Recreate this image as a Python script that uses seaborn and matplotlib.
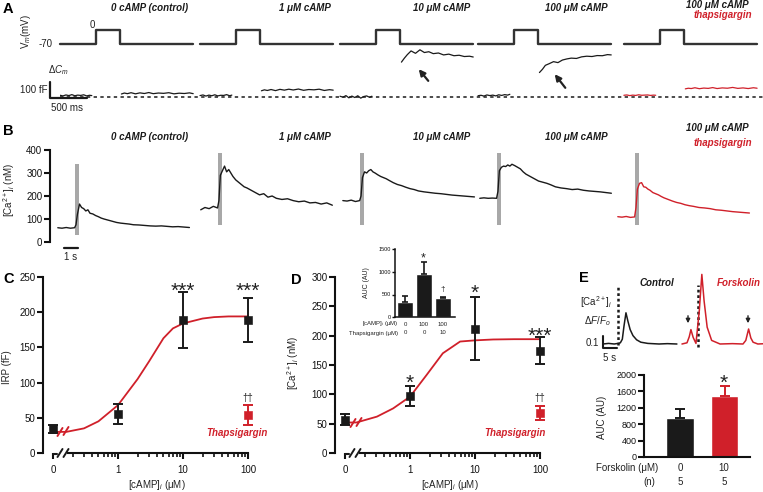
import numpy as np
import matplotlib
matplotlib.use("Agg")
import matplotlib.pyplot as plt
from matplotlib.ticker import FixedLocator, NullLocator
import seaborn as sns

sns.set_theme(style="ticks")
plt.rcParams['font.family'] = ['Liberation Sans', 'DejaVu Sans']
plt.rcParams.update({
    'mathtext.fontset': 'custom',
    'mathtext.rm': 'Liberation Sans',
    'mathtext.it': 'Liberation Sans:italic',
    'mathtext.bf': 'Liberation Sans:bold',
    'axes.linewidth': 1.5,
    'axes.edgecolor': '#111111',
    'xtick.color': '#111111', 'ytick.color': '#111111',
    'xtick.major.width': 1.5, 'ytick.major.width': 1.5,
    'xtick.major.size': 4, 'ytick.major.size': 4,
    'xtick.labelsize': 7, 'ytick.labelsize': 7,
    'xtick.major.pad': 2, 'ytick.major.pad': 1.5,
    'text.color': '#222222',
})

RED = '#d0202a'
INK = '#1a1a1a'
GREY = '#a8a8a8'

# ==========================================
# DATA
# ==========================================
conditions = ['0 cAMP (control)', '1 μM cAMP', '10 μM cAMP', '100 μM cAMP', '100 μM cAMP']

# A: voltage step (ms, mV) and capacitance traces (fF)
vm_t = [0, 490, 490, 810, 810, 1800]
vm_mv = [-70, -70, 0, 0, -70, -70]
cm_pre_t = [0, 40, 80, 120, 160, 200, 240, 280, 320, 360, 400, 430]
cm_pre = [
    [8, 4, 10, 6, 12, 5, 9, 7, 11, 4, 8, 6],
    [6, 10, 3, 9, 5, 11, 4, 8, 7, 12, 5, 9],
    [2, -4, 6, -8, 3, -6, 5, -10, 0, 4, -5, 2],
    [5, 8, 3, 10, 6, 9, 4, 11, 7, 12, 9, 14],
    [8, 10, 6, 9, 7, 11, 8, 9, 10, 7, 9, 8],
]
cm_post_t = [830, 870, 910, 960, 1020, 1080, 1140, 1200, 1260, 1330, 1400, 1470, 1540, 1610, 1680, 1750, 1800]
cm_post = [
    [16, 22, 18, 24, 17, 23, 19, 25, 18, 22, 20, 24, 17, 21, 19, 23, 18],
    [36, 42, 38, 44, 37, 45, 40, 46, 41, 47, 39, 44, 42, 46, 38, 43, 40],
    [215, 240, 262, 285, 270, 292, 275, 280, 268, 272, 260, 265, 255, 258, 250, 252, 247],
    [150, 170, 195, 205, 218, 212, 228, 235, 240, 238, 248, 252, 250, 256, 255, 262, 260],
    [48, 52, 50, 55, 49, 53, 51, 56, 50, 54, 52, 57, 51, 54, 50, 55, 52],
]

# B: [Ca2+]i traces (s relative to stimulus, nM)
ca_t = [-1.3, -1.0, -0.7, -0.4, -0.1, 0.0, 0.1, 0.25, 0.4, 0.55, 0.7, 0.85, 1.0, 1.2, 1.4, 1.6, 1.8,
        2.0, 2.3, 2.6, 2.9, 3.2, 3.5, 3.8, 4.1, 4.5, 4.9, 5.3, 5.7, 6.1, 6.5, 6.9, 7.3, 7.7, 8.1]
ca_nm = [
    [62, 60, 63, 60, 62, 75, 120, 165, 150, 145, 135, 140, 125, 122, 115, 110, 104, 100, 95, 90, 85, 82,
     80, 78, 75, 74, 72, 70, 69, 70, 68, 66, 67, 65, 63],
    [140, 150, 145, 155, 148, 180, 290, 310, 330, 305, 315, 300, 285, 270, 260, 250, 240, 235, 225, 215,
     205, 210, 195, 200, 190, 185, 188, 180, 175, 178, 170, 172, 165, 170, 160],
    [180, 178, 182, 176, 180, 200, 280, 305, 300, 310, 315, 305, 300, 292, 285, 280, 275, 268, 258, 250,
     245, 238, 232, 228, 222, 218, 215, 212, 210, 207, 204, 202, 200, 198, 196],
    [190, 192, 190, 191, 190, 220, 310, 325, 330, 328, 335, 330, 338, 332, 325, 318, 305, 295, 285, 275,
     265, 260, 255, 248, 240, 235, 232, 228, 230, 225, 222, 220, 218, 215, 212],
    [110, 108, 111, 107, 109, 150, 230, 255, 258, 240, 238, 230, 225, 215, 210, 205, 198, 192, 185, 178,
     172, 168, 162, 158, 155, 150, 148, 145, 140, 138, 135, 132, 130, 128, 126],
]
stim_lo = [30, 74, 74, 74, 74]
stim_hi = [339, 387, 387, 387, 387]

# C: IRP vs [cAMP]
camp_um = [0, 1, 10, 100]
camp_labels = ['0', '1', '10', '100']
irp_ff = [34, 55, 189, 189]
irp_sem = [6, 14, 40, 31]
irp_thaps, irp_thaps_sem = 54, 14
irp_fit_um = [0.1, 0.16, 0.3, 0.5, 1, 2, 3, 5, 7, 10, 20, 30, 50, 100]
irp_fit_ff = [30, 30, 35, 45, 68, 105, 130, 163, 177, 184, 191, 193, 194, 194]

# D: [Ca2+]i vs [cAMP]
ca_mean = [57, 97, 212, 174]
ca_sem = [9, 17, 54, 23]
ca_thaps, ca_thaps_sem = 68, 12
ca_fit_um = [0.1, 0.15, 0.31, 0.55, 1, 1.8, 3.2, 5.9, 10, 19, 40, 100]
ca_fit_nm = [52, 52, 62, 76, 96, 133, 170, 190, 192, 193.5, 194, 194]

# D inset: AUC
inset_cond = ['ctrl', 'camp', 'camp+thaps']
inset_auc = [333, 950, 420]
inset_sem = [135, 280, 30]
inset_camp = ['0', '100', '100']
inset_thaps = ['0', '0', '10']

# E: forskolin traces (s, dF/F0) and AUC
e_ctrl_t = [0, 2, 4, 5.4, 6.2, 6.9, 7.5, 8.2, 8.9, 9.7, 10.7, 12, 13.5, 16, 20, 23, 26.4]
e_ctrl_df = [0, 0.005, 0, 0.005, 0.01, 0.04, 0.15, 0.26, 0.19, 0.12, 0.07, 0.035, 0.015, 0.005, 0, 0.003, 0]
e_fsk_t = [0, 1.8, 2.6, 3.2, 4.0, 5.0, 6.2, 7.1, 7.9, 9.0, 10.6, 13.6, 18, 21.8, 22.8, 23.8, 24.6, 25.4, 27.1, 28.9]
e_fsk_df = [0, 0.01, 0.06, 0.12, 0.055, 0.005, 0.28, 0.58, 0.36, 0.14, 0.03, 0, 0.003, 0, 0.03, 0.125, 0.05,
            0.015, 0, 0.002]
e_stim = [5.4, 5.7]
forsk_um = ['0', '10']
forsk_n = ['5', '5']
forsk_auc = [960, 1500]
forsk_sem = [200, 240]

# ==========================================
# LAYOUT (pixel boxes on a 763 x 492 canvas)
# ==========================================
W, H = 763, 492
fig = plt.figure(figsize=(W / 100, H / 100), dpi=100)


def px_axes(x0, x1, y0, y1):
    return fig.add_axes([x0 / W, 1 - y1 / H, (x1 - x0) / W, (y1 - y0) / H])


def line(ax, x, y, **kw):
    sns.lineplot(x=list(x), y=list(y), ax=ax, estimator=None, sort=False, legend=False, **kw)


# ---------- A ----------
a_off = [0, 1892, 3784, 5649, 7620]
ax_vm = px_axes(60, 763, 30, 43.5)
ax_vm.set_xlim(0, 9500)
ax_vm.set_ylim(-70, 0)
ax_vm.axis('off')
ax_cm = px_axes(60, 763, 45, 110)
ax_cm.set_xlim(0, 9500)
ax_cm.set_ylim(-84, 322)
ax_cm.axis('off')
ax_cm.axhline(0, color=INK, lw=1.1, ls=(0, (2.2, 2.2)))
for i in range(5):
    col = RED if i == 4 else INK
    line(ax_vm, np.add(vm_t, a_off[i]), vm_mv, color='#333333', lw=1.7, clip_on=False)
    line(ax_cm, np.add(cm_pre_t, a_off[i]), cm_pre[i], color=col, lw=0.9)
    line(ax_cm, np.add(cm_post_t, a_off[i]), cm_post[i], color=col, lw=0.9)
ax_cm.plot([-135, -135, 365], [90, -10, -10], color=INK, lw=1.6, clip_on=False)

# ---------- B ----------
b_off = [0, 10.21, 20.36, 30.14, 40.0]
ax_b = px_axes(50, 763, 150, 242)
ax_b.set_xlim((50 - 76) / 14, (763 - 76) / 14)
ax_b.set_ylim(0, 400)
for i in range(5):
    col = RED if i == 4 else INK
    ax_b.fill_between([b_off[i] - 0.1, b_off[i] + 0.2], stim_lo[i], stim_hi[i], color=GREY, lw=0)
    line(ax_b, np.add(ca_t, b_off[i]), ca_nm[i], color=col, lw=1.0)
ax_b.plot([-0.857, 0.143], [-26, -26], color=INK, lw=1.6, clip_on=False)
sns.despine(ax=ax_b, bottom=True)
ax_b.spines['left'].set_bounds(0, 400)
ax_b.set_xticks([])
ax_b.set_yticks([0, 100, 200, 300, 400])


# ---------- C / D shared dose axis ----------
def dose_pos(c):
    # the "0" dose sits one decade below 1 uM, after the axis break
    return c if c > 0 else 0.1


def setup_dose_axis(ax, one_px, left_px, right_px, ymax, ystep):
    ax.set_xlim(10 ** ((left_px - one_px) / 65), 10 ** ((right_px - one_px) / 65))
    ax.set_ylim(0, ymax)
    sns.despine(ax=ax)
    ax.set_yticks(np.arange(0, ymax + 1, ystep))
    ax.spines['bottom'].set_bounds(10 ** (-50 / 65), 100)
    ax.spines['left'].set_bounds(0, ymax)


def log_ticks(ax):
    # labelled decades plus unlabelled 2..9 sub-ticks, all on one fixed locator
    ticks = [(dose_pos(c), lab) for c, lab in zip(camp_um, camp_labels)]
    ticks += [(k * 10.0 ** e, '') for e in (-1, 0, 1) for k in range(2, 10)]
    ticks.sort()
    ax.xaxis.set_major_locator(FixedLocator([t for t, _ in ticks]))
    ax.xaxis.set_minor_locator(NullLocator())
    ax.set_xticklabels([lab for _, lab in ticks])
    ax.tick_params(axis='x', which='major', length=4.5, width=1.5, pad=4)
    for tk, (_, lab) in zip(ax.xaxis.get_major_ticks(), ticks):
        if lab == '':
            tk.tick1line.set_markersize(3)
            tk.tick1line.set_markeredgewidth(1.2)


def dose_points(ax, means, sems, thaps, thaps_sem):
    pos = [dose_pos(c) for c in camp_um]
    ax.errorbar(pos, means, yerr=sems, fmt='none', ecolor=INK, elinewidth=1.4, capsize=3.5,
                capthick=1.4, clip_on=False, zorder=3)
    sns.scatterplot(x=pos, y=means, marker='s', s=30, color=INK, edgecolor=INK, ax=ax, zorder=4,
                    clip_on=False)
    ax.errorbar([100], [thaps], yerr=[thaps_sem], fmt='none', ecolor=RED, elinewidth=1.4, capsize=3.5,
                capthick=1.4, clip_on=False, zorder=3)
    sns.scatterplot(x=[100], y=[thaps], marker='s', s=30, color=RED, edgecolor=RED, ax=ax, zorder=4,
                    clip_on=False)


ax_c = px_axes(43, 251, 277, 453)
ax_c.set_xscale('log')
line(ax_c, irp_fit_um, irp_fit_ff, color=RED, lw=1.3)
dose_points(ax_c, irp_ff, irp_sem, irp_thaps, irp_thaps_sem)
setup_dose_axis(ax_c, 118, 43, 251, 250, 50)
ax_c.set_xlabel('')
ax_c.set_ylabel('')

ax_d = px_axes(335, 543, 277, 453)
ax_d.set_xscale('log')
line(ax_d, ca_fit_um, ca_fit_nm, color=RED, lw=1.3)
dose_points(ax_d, ca_mean, ca_sem, ca_thaps, ca_thaps_sem)
setup_dose_axis(ax_d, 410, 335, 543, 300, 50)
ax_d.set_xlabel('')
ax_d.set_ylabel('')

# D inset
ax_in = px_axes(395, 455, 249.5, 317)
sns.barplot(x=inset_cond, y=inset_auc, color=INK, saturation=1, width=0.84, ax=ax_in, errorbar=None)
ax_in.errorbar([0, 1, 2], inset_auc, yerr=[[0, 0, 0], inset_sem], fmt='none', ecolor=INK,
               elinewidth=1.2, capsize=2.5, capthick=1.2)
ax_in.set_xlim((395 - 405) / 19, (455 - 405) / 19)
ax_in.set_ylim(0, 1500)
sns.despine(ax=ax_in)
ax_in.set_xticks([])
ax_in.set_yticks([0, 500, 1000, 1500])
ax_in.tick_params(axis='y', labelsize=4, length=2, width=1, pad=1)
for s in ax_in.spines.values():
    s.set_linewidth(1.1)
ax_in.set_xlabel('')
ax_in.set_ylabel('')

# ---------- E ----------
ax_et = px_axes(595, 763, 265, 360)
ax_et.set_xlim((595 - 603) / 2.8, (763 - 603) / 2.8)
ax_et.set_ylim((344 - 360) / 120, (344 - 265) / 120)
ax_et.axis('off')
e_fsk_off = 28.2
ax_et.plot([e_stim[0]] * 2, [-0.01, 0.475], ls=(0, (1.1, 1.1)), lw=1.8, color=INK)
ax_et.plot([e_stim[1] + e_fsk_off] * 2, [-0.025, 0.49], ls=(0, (1.1, 1.1)), lw=1.8, color=INK)
line(ax_et, e_ctrl_t, e_ctrl_df, color=INK, lw=1.1)
line(ax_et, np.add(e_fsk_t, e_fsk_off), e_fsk_df, color=RED, lw=1.1, clip_on=False)
ax_et.plot([0, 0, 5], [0.067, -0.033, -0.033], color=INK, lw=1.5, clip_on=False)

ax_eb = px_axes(644, 750, 375, 457)
sns.barplot(x=forsk_um, y=forsk_auc, hue=forsk_um, palette=[INK, RED], saturation=1, width=0.61,
            legend=False, ax=ax_eb, errorbar=None)
for i, col in enumerate([INK, RED]):
    ax_eb.errorbar([i], [forsk_auc[i]], yerr=[[0], [forsk_sem[i]]], fmt='none', ecolor=col,
                   elinewidth=1.4, capsize=3.5, capthick=1.4)
ax_eb.set_xlim((644 - 680) / 44.5, (750 - 680) / 44.5)
ax_eb.set_ylim(0, 2000)
sns.despine(ax=ax_eb)
ax_eb.set_xticks([])
ax_eb.set_yticks(np.arange(0, 2001, 400))
ax_eb.tick_params(axis='y', labelsize=6.5)
ax_eb.set_xlabel('')
ax_eb.set_ylabel('')

# ==========================================
# TEXT AND ANNOTATIONS (pixel overlay)
# ==========================================
ov = fig.add_axes([0, 0, 1, 1])
ov.set_xlim(0, W)
ov.set_ylim(H, 0)
ov.axis('off')
ov.patch.set_alpha(0)


def txt(x, y, s, size=7, **kw):
    kw.setdefault('ha', 'center')
    kw.setdefault('va', 'center')
    ov.text(x, y, s, fontsize=size, **kw)


for lab, (x, y) in zip('ABCDE', [(3, 9), (3, 131), (3, 279), (291, 280), (579, 278)]):
    txt(x, y, lab, size=10.5, fontweight='bold', ha='left', color='black')

title_x = [150, 305, 442, 576, 717]
for row_y, last_y, th_y in [(8, 5, 15), (137, 128, 143)]:
    for i, name in enumerate(conditions):
        txt(title_x[i], row_y if i < 4 else last_y, name, fontweight='bold', style='italic', color=INK)
    txt(723, th_y, 'thapsigargin', fontweight='bold', style='italic', color=RED)

# A labels
txt(26, 31, r'V$_m$(mV)', rotation=90)
txt(92, 25, '0')
txt(53, 44, '-70', ha='right')
txt(48, 70, r'$\Delta C_m$', ha='left')
txt(47, 90, '100 fF', ha='right')
txt(67, 108, '500 ms')
for (x0, y0, x1, y1) in [(430, 83, 417, 67), (567, 90, 553, 72)]:
    ov.annotate('', xy=(x1, y1), xytext=(x0, y0),
                arrowprops=dict(arrowstyle='-|>', color='#222222', lw=1.6, mutation_scale=9))

# B labels
txt(9, 190, r'[Ca$^{2+}$]$_i$ (nM)', rotation=90)
txt(71, 257, '1 s')

# C labels
txt(7, 367, 'IRP (fF)', rotation=90)
txt(157, 485, r'[cAMP]$_i$ (μM)')
for x in (183, 248):
    txt(x, 297, '***', size=15, va='baseline')
txt(248, 398, '††', size=7)
txt(237, 433, 'Thapsigargin', fontweight='bold', style='italic', color=RED)

# D labels
txt(293, 363, r'[Ca$^{2+}$]$_i$ (nM)', rotation=90)
txt(450, 485, r'[cAMP]$_i$ (μM)')
txt(410, 389, '*', size=15, va='baseline')
txt(475, 299, '*', size=15, va='baseline')
txt(540, 342, '***', size=15, va='baseline')
txt(540, 398, '††', size=7)
txt(515, 433, 'Thapsigargin', fontweight='bold', style='italic', color=RED)

# axis breaks
for (bx, by, col) in [(60, 453, INK), (66, 453, INK), (60, 432, RED), (66, 431, RED),
                      (352, 453, INK), (358, 453, INK), (353, 423, RED), (359, 422, RED)]:
    ov.plot([bx - 2.5, bx + 2.5], [by + 4, by - 4], color=col, lw=1.4)
ov.plot([53, 57], [453.5, 453.5], color=INK, lw=1.5)
ov.plot([345, 349], [453.5, 453.5], color=INK, lw=1.5)

# inset labels
txt(366, 283, 'AUC (AU)', size=5, rotation=90)
txt(423, 261, '*', size=9, va='baseline')
txt(443, 290, '†', size=6)
txt(398, 324, r'[cAMP]$_i$ (μM)', size=4.3, ha='right')
txt(398, 333, 'Thapsigargin (μM)', size=4.3, ha='right')
for x, a, b in zip([405, 424, 443], inset_camp, inset_thaps):
    txt(x, 324, a, size=4.3)
    txt(x, 333, b, size=4.3)

# E labels
txt(657, 283, 'Control', fontweight='bold', style='italic', color=INK)
txt(739, 283, 'Forskolin', fontweight='bold', style='italic', color=RED)
txt(612, 302, r'[Ca$^{2+}$]$_i$', ha='right')
txt(611, 321, r'$\Delta F/F_o$', ha='right')
txt(599, 343, '0.1', ha='right')
txt(610, 358, '5 s')
for x in (688, 748):
    ov.annotate('', xy=(x, 326), xytext=(x, 313),
                arrowprops=dict(arrowstyle='-|>', color='#222222', lw=1.0, mutation_scale=6))
txt(602, 417, 'AUC (AU)', rotation=90)
txt(724, 389, '*', size=15, va='baseline')
txt(658, 468, 'Forskolin (μM)', ha='right')
txt(655, 482, '(n)', ha='right')
for x, a, n in zip([680, 724], forsk_um, forsk_n):
    txt(x, 468, a)
    txt(x, 482, n)

# decade and sub-decade ticks on the log dose axes, applied last
for ax in (ax_c, ax_d):
    log_ticks(ax)

fig.savefig('out.png', dpi=100)
